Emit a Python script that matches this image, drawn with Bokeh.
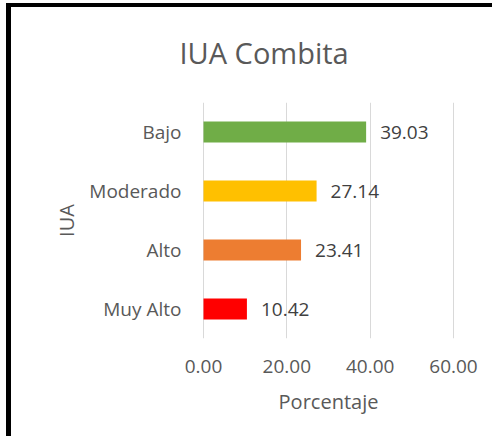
from bokeh.plotting import figure
from bokeh.models import ColumnDataSource, Range1d, FactorRange, FixedTicker, PrintfTickFormatter, LabelSet, InlineStyleSheet
from bokeh.core.properties import value
from bokeh.embed import file_html
from bokeh.resources import INLINE

categories = ["Muy Alto", "Alto", "Moderado", "Bajo"]
values = [10.42, 23.41, 27.14, 39.03]
colors = ["#FF0000", "#ED7D31", "#FFC000", "#70AD47"]
x_ticks = [0, 20, 40, 60]
labels = ["%.2f" % v for v in values]
title_text = "IUA Combita"

FONT = "Open Sans"
GREY = "#595959"

src = ColumnDataSource(dict(cat=categories, val=values, color=colors, lab=labels))

frame_css = InlineStyleSheet(css="""
:host::before { content: ""; position: absolute; left: 22px; top: 7px; width: 470px; height: 429px;
  box-sizing: border-box; border-left: 1px solid #D9D9D9; border-top: 1px solid #D9D9D9; pointer-events: none; }
:host::after { content: ""; position: absolute; left: 6px; top: 3px; width: 486px; height: 433px;
  box-sizing: border-box; border-left: 5px solid #000; border-top: 4px solid #000; pointer-events: none; }
""")

p = figure(width=492, height=436, output_backend="svg", toolbar_location=None,
           y_range=FactorRange(*categories), x_range=Range1d(-0.24, 60.24),
           min_border_left=202, min_border_right=38, min_border_top=97, min_border_bottom=98,
           title=title_text, stylesheets=[frame_css])
p.outline_line_color = None
p.background_fill_color = "white"
p.border_fill_color = "white"

p.title.text_font = FONT
p.title.text_font_size = "29px"
p.title.text_font_style = "normal"
p.title.text_color = GREY
p.title.align = "left"
p.title.offset = -23
p.title.text_line_height = 0.8
p.title.standoff = 61

p.hbar(y="cat", right="val", left=0, height=0.36, color="color", source=src, line_color=None)

p.xaxis.ticker = FixedTicker(ticks=x_ticks)
p.xaxis.formatter = PrintfTickFormatter(format="%.2f")
p.xaxis.axis_line_color = None
p.xaxis.major_tick_line_color = None
p.xaxis.minor_tick_line_color = None
p.xaxis.major_label_text_font = FONT
p.xaxis.major_label_text_font_size = "19px"
p.xaxis.major_label_text_color = GREY
p.xaxis.major_label_standoff = 15
p.xaxis.axis_label = "Porcentaje"
p.xaxis.axis_label_text_font = FONT
p.xaxis.axis_label_text_font_size = "20px"
p.xaxis.axis_label_text_font_style = "normal"
p.xaxis.axis_label_text_color = GREY
p.xaxis.axis_label_standoff = 12

p.yaxis.axis_line_color = None
p.yaxis.major_tick_line_color = None
p.yaxis.minor_tick_line_color = None
p.yaxis.major_label_text_font = FONT
p.yaxis.major_label_text_font_size = "19px"
p.yaxis.major_label_text_color = GREY
p.yaxis.major_label_standoff = 15
p.yaxis.axis_label = "IUA"
p.yaxis.axis_label_text_font = FONT
p.yaxis.axis_label_text_font_size = "20px"
p.yaxis.axis_label_text_font_style = "normal"
p.yaxis.axis_label_text_color = GREY
p.yaxis.axis_label_standoff = 6

p.xgrid.grid_line_color = "#D9D9D9"
p.xgrid.grid_line_width = 1
p.ygrid.grid_line_color = None

p.add_layout(LabelSet(x="val", y="cat", text="lab", source=src, x_offset=14,
                      text_baseline="middle", text_align="left",
                      text_font=value(FONT), text_font_size="19px", text_color="#404040"))

open("out.html", "w").write(file_html(p, INLINE))
